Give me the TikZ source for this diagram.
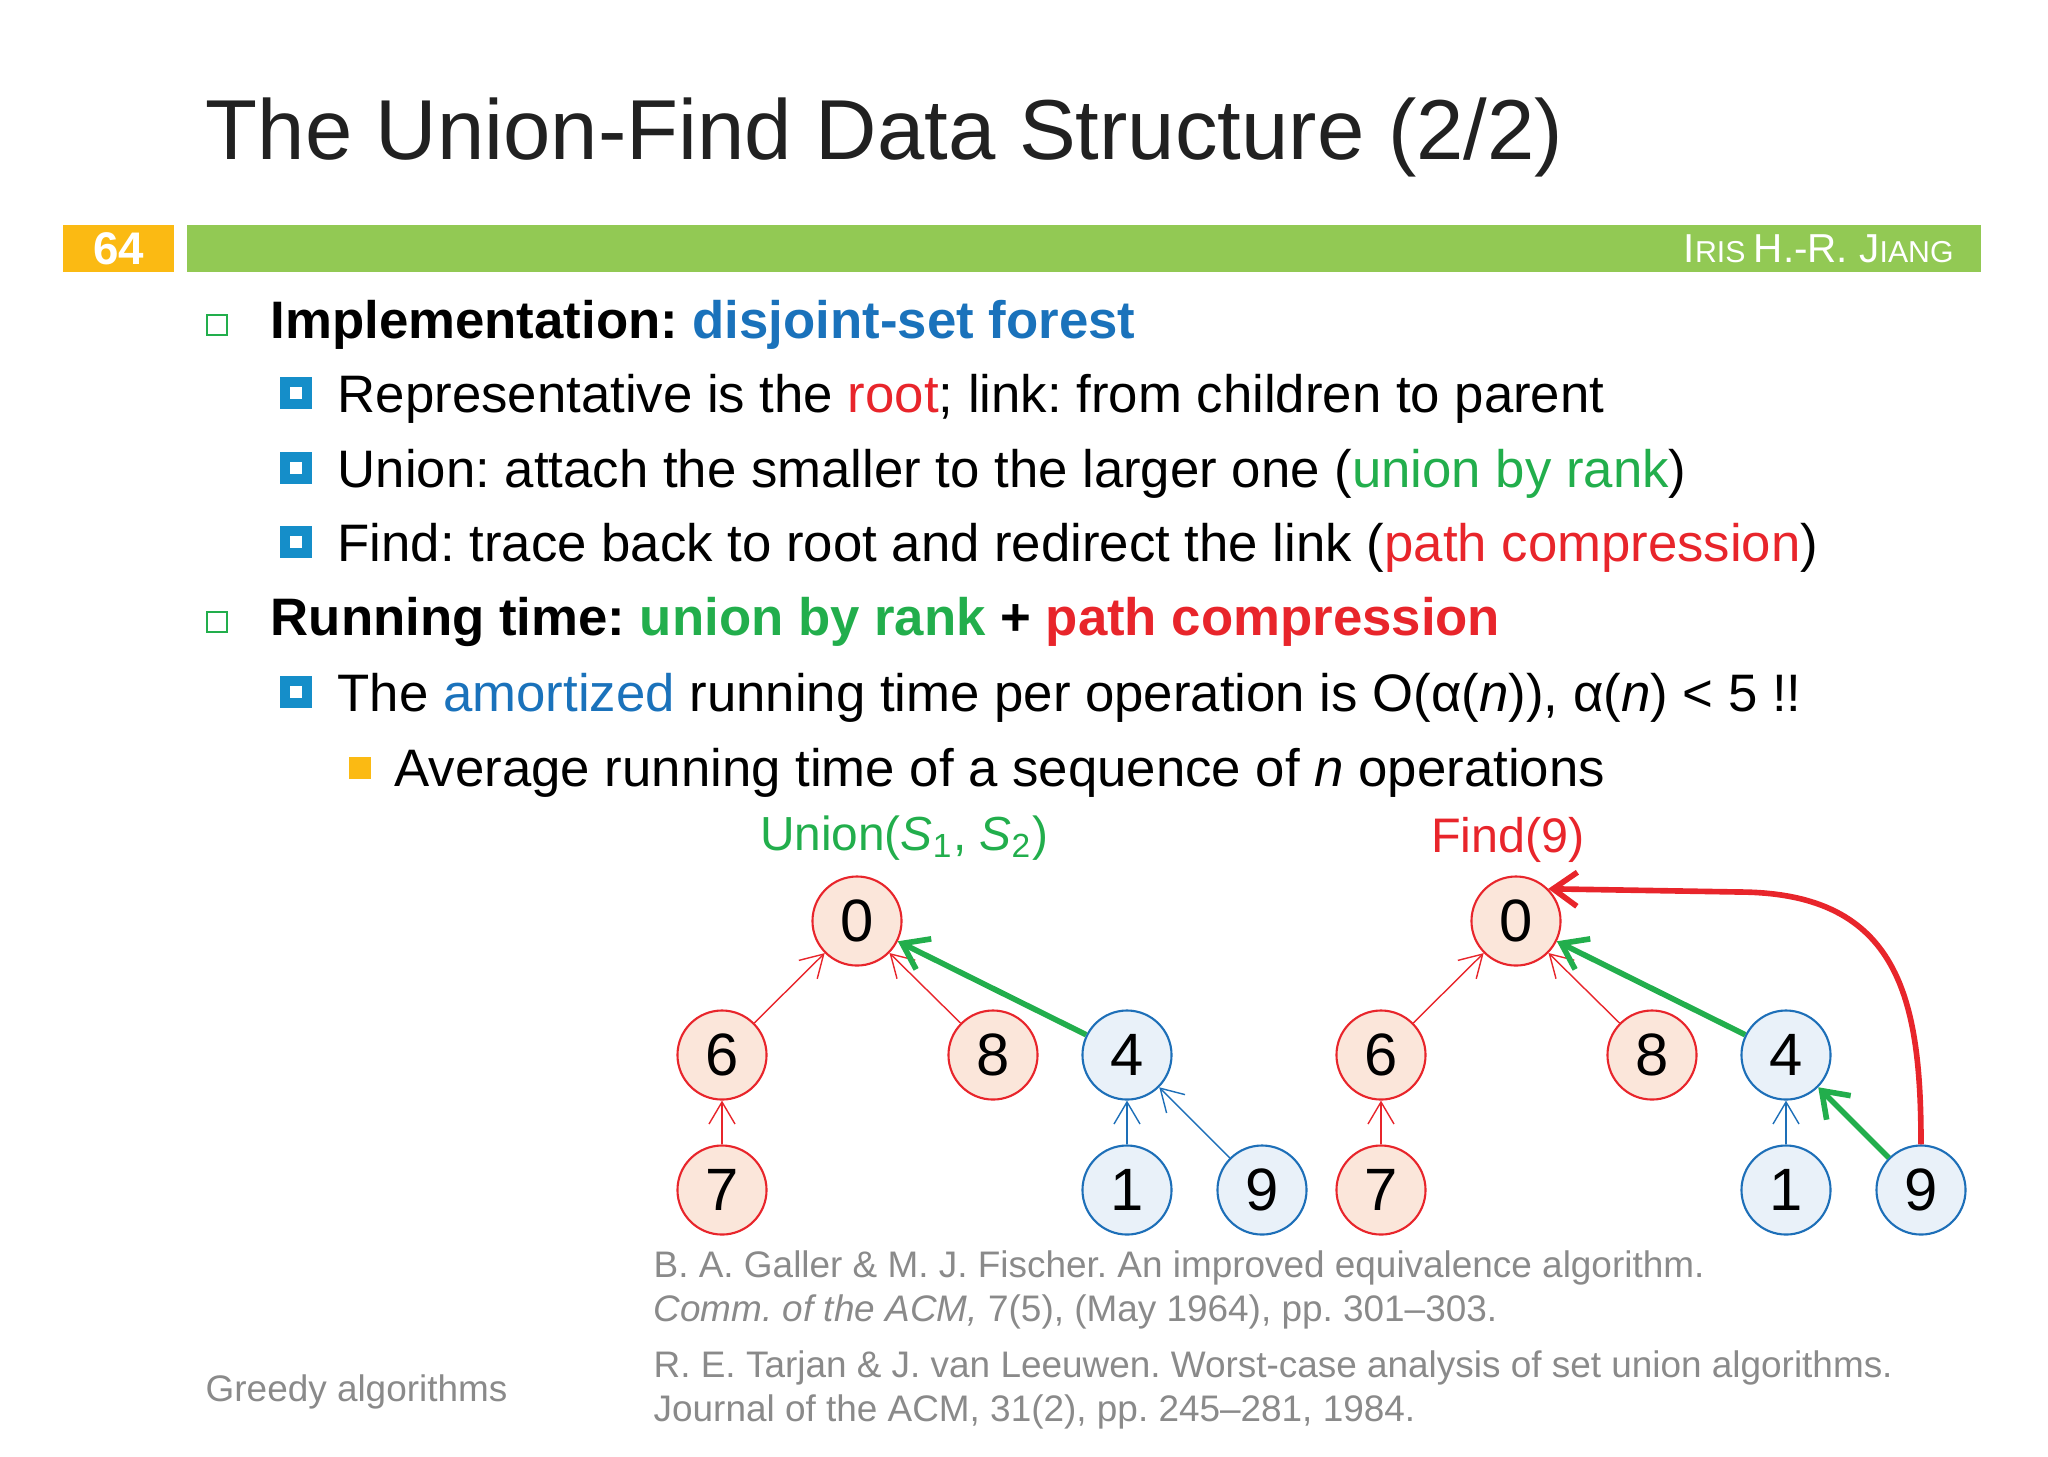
\documentclass[tikz,border=0pt]{standalone}
\usepackage{fontspec}
\setmainfont{Liberation Sans}
\frenchspacing
\usetikzlibrary{arrows.meta}
\definecolor{ired}{HTML}{E8252B}
\definecolor{ipeach}{HTML}{FBE6DA}
\definecolor{iblue}{HTML}{1D6FB8}
\definecolor{ilblue}{HTML}{E9F1F9}
\definecolor{igreen}{HTML}{22AE4C}
\definecolor{ibar}{HTML}{92C954}
\definecolor{iorange}{HTML}{FBBA13}
\definecolor{ilink}{HTML}{1A72BB}
\definecolor{igray}{HTML}{8A8A8A}
\tikzset{
  rnode/.style={circle, draw=ired, fill=ipeach, semithick, minimum size=0.89cm, inner sep=0pt, font=\fontsize{17}{17}\selectfont},
  bnode/.style={circle, draw=iblue, fill=ilblue, semithick, minimum size=0.89cm, inner sep=0pt, font=\fontsize{17}{17}\selectfont},
  rlink/.style={ired, thin, -{Straight Barb[length=2.2mm,width=2.6mm]}},
  blink/.style={iblue, thin, -{Straight Barb[length=2.2mm,width=2.6mm]}},
  glink/.style={igreen, line width=1.6pt, -{Straight Barb[length=2.4mm,width=3.4mm]}},
  fred/.style={ired, line width=1.6pt, -{Straight Barb[length=2.4mm,width=3.4mm]}},
  body/.style={anchor=base west, inner sep=0pt, font=\fontsize{15}{15}\selectfont},
  ref/.style={anchor=base west, inner sep=0pt, text=igray, font=\fontsize{10.5}{10.5}\selectfont},
}
\begin{document}
\begin{tikzpicture}[x=0.01cm, y=-0.01cm]
\useasboundingbox (0,0) rectangle (2048,1456);
% header
\node[anchor=base west, inner sep=0pt, text=black!87, font=\fontsize{24.2}{24.2}\selectfont] (title) at (205,159) {The Union-Find Data Structure (2/2)};
\fill[iorange] (63,225) rectangle (174,272);
\node[text=white, font=\bfseries\fontsize{13}{13}\selectfont] (page) at (118.5,249) {64};
\fill[ibar] (187,225) rectangle (1981,272);
\node[anchor=east, text=white, font=\fontsize{11.5}{11.5}\selectfont] (author) at (1966,249) {I\fontsize{8.6}{8.6}\selectfont RIS \fontsize{11.5}{11.5}\selectfont H.-R. J\fontsize{8.6}{8.6}\selectfont IANG};
% bullets
\draw[igreen, thick] (207,315) rectangle (227,335);
\draw[igreen, thick] (207,612) rectangle (227,632);
\foreach \y in {393,468,542,692}
  \draw[ilink!80!cyan, line width=2.8pt] (285,\y-11) rectangle (307,\y+11);
\fill[iorange] (349,757) rectangle (371,779);
\node[body, font=\bfseries\fontsize{15}{15}\selectfont] (l1) at (270,338) {Implementation: \textcolor{ilink}{disjoint-set forest}};
\node[body] (l2) at (337,412) {Representative is the \textcolor{ired}{root}; link: from children to parent};
\node[body] (l3) at (337,487) {Union: attach the smaller to the larger one (\textcolor{igreen}{union by rank})};
\node[body] (l4) at (337,561) {Find: trace back to root and redirect the link (\textcolor{ired}{path compression})};
\node[body, font=\bfseries\fontsize{15}{15}\selectfont] (l5) at (270,635) {Running time: \textcolor{igreen}{union by rank} + \textcolor{ired}{path compression}};
\node[body] (l6) at (337,711) {The \textcolor{ilink}{amortized} running time per operation is O(α(\textit{n})), α(\textit{n}) < 5 !!};
\node[body] (l7) at (394,786) {Average running time of a sequence of \textit{n} operations};
% union
\node[text=igreen, font=\fontsize{13.6}{13.6}\selectfont] (union) at (904,838) {Union(\textit{S}\textsubscript{1}, \textit{S}\textsubscript{2})};
\node[rnode] (a0) at (857,921) {0};
\node[rnode] (a6) at (722,1055) {6};
\node[rnode] (a8) at (993,1055) {8};
\node[bnode] (a4) at (1127,1055) {4};
\node[rnode] (a7) at (722,1190) {7};
\node[bnode] (a1) at (1127,1190) {1};
\node[bnode] (a9) at (1262,1190) {9};
\draw[rlink] (a6) -- (a0);
\draw[rlink] (a8) -- (a0);
\draw[rlink] (a7) -- (a6);
\draw[blink] (a1) -- (a4);
\draw[blink] (a9) -- (a4);
\draw[glink] (a4) -- (a0);
% find
\node[text=ired, font=\fontsize{13.8}{13.8}\selectfont] (find) at (1508,840) {Find(9)};
\node[rnode] (b0) at (1516,921) {0};
\node[rnode] (b6) at (1381,1055) {6};
\node[rnode] (b8) at (1652,1055) {8};
\node[bnode] (b4) at (1786,1055) {4};
\node[rnode] (b7) at (1381,1190) {7};
\node[bnode] (b1) at (1786,1190) {1};
\node[bnode] (b9) at (1921,1190) {9};
\draw[rlink] (b6) -- (b0);
\draw[rlink] (b8) -- (b0);
\draw[rlink] (b7) -- (b6);
\draw[blink] (b1) -- (b4);
\draw[glink] (b9) -- (b4);
\draw[glink] (b4) -- (b0);
\coordinate (bend) at (1740,892);
\draw[fred] (b9.north) .. controls (1921,1000) and (1900,893) .. (bend) -- (b0.north east);
% references
\node[ref] (r1) at (653,1277) {B. A. Galler \& M. J. Fischer. An improved equivalence algorithm.};
\node[ref] (r2) at (653,1321) {\textit{Comm. of the ACM,} 7(5), (May 1964), pp. 301–303.};
\node[ref] (r3) at (653,1377) {R. E. Tarjan \& J. van Leeuwen. Worst-case analysis of set union algorithms.};
\node[ref] (r4) at (653,1421) {Journal of the ACM, 31(2), pp. 245–281, 1984.};
\node[ref] (foot) at (205,1401) {Greedy algorithms};
\end{tikzpicture}
\end{document}
